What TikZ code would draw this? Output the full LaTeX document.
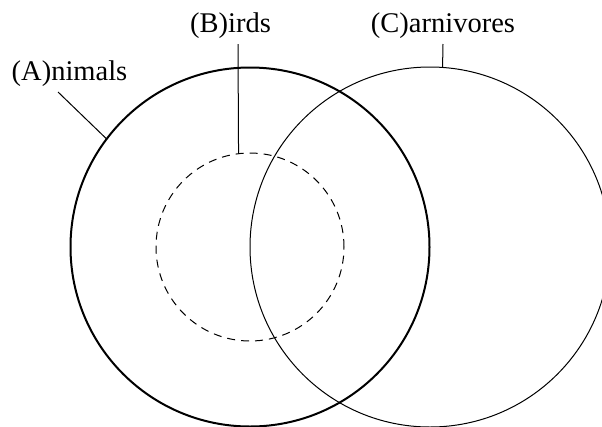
\documentclass[tikz,border=0pt]{standalone}
\usepackage{fontspec}
\setmainfont{Liberation Serif}
\begin{document}
\begin{tikzpicture}[x=1pt,y=-1pt,
  setcircle/.style={circle, draw, inner sep=0pt, outer sep=0pt},
  setlabel/.style={anchor=base, inner sep=0pt, font=\fontsize{28.5}{34}\selectfont},
  leader/.style={line width=1pt}]
  \useasboundingbox (0,0) rectangle (602,426);
  \clip (0,0) rectangle (602,426);

  % the three sets
  \node[setcircle, line width=2pt, minimum size=359pt] (A) at (250,247) {};
  \node[setcircle, line width=1pt, dash pattern=on 8pt off 6pt, minimum size=188pt] (B) at (250,247) {};
  \node[setcircle, line width=1pt, minimum size=360pt] (C) at (430,247) {};

  % labels
  \node[setlabel] (la) at (69.5,80) {(A)nimals};
  \node[setlabel] (lb) at (230.5,32) {(B)irds};
  \node[setlabel] (lc) at (443,32) {(C)arnivores};

  % leader lines from the labels to their circles
  \coordinate (ta) at (58,92);
  \coordinate (tb) at (238,44);
  \coordinate (tc) at (443,44);
  \draw[leader] (ta) -- (A.143);
  \draw[leader] (tb) -- (B.97);
  \draw[leader] (tc) -- (C.86);
\end{tikzpicture}
\end{document}
